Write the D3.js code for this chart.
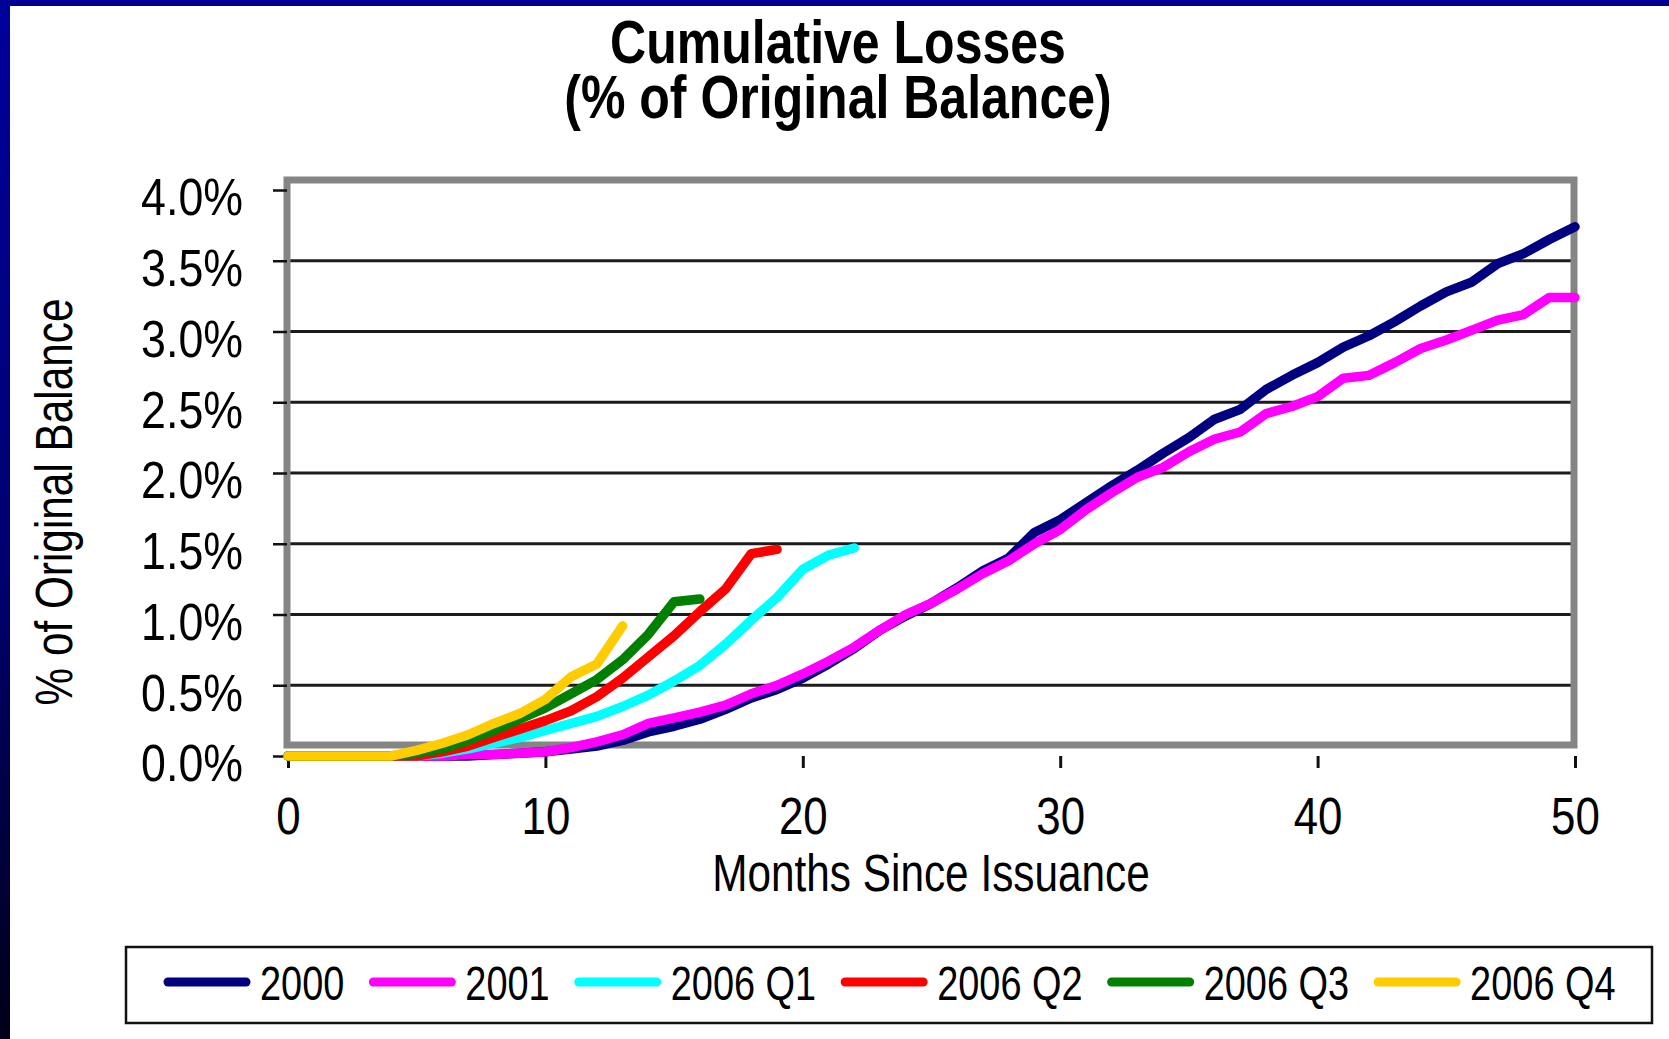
<!DOCTYPE html>
<html>
<head>
<meta charset="utf-8">
<title>Cumulative Losses</title>
<script src="https://cdn.jsdelivr.net/npm/d3@7"></script>
<style>
  html, body { margin: 0; padding: 0; background: #fff; overflow: hidden; }
  svg { display: block; }
  text { font-family: "Liberation Sans", Arial, sans-serif; fill: #000; }
</style>
</head>
<body>
<svg id="chart" width="1669" height="1039"></svg>
<script>
// ---- data: cumulative losses, % of original balance, by months since issuance ----
const seriesNames  = ["2000", "2001", "2006 Q1", "2006 Q2", "2006 Q3", "2006 Q4"];
const seriesColors = ["#000080", "#ff00ff", "#00ffff", "#ff0000", "#008000", "#ffcc00"];

const loss2000 = [0,0,0,0,0,0,0,0.00,0.01,0.02,0.03,0.05,0.07,0.11,0.17,0.21,0.26,0.33,0.41,0.47,
  0.55,0.65,0.76,0.89,0.99,1.08,1.19,1.31,1.40,1.58,1.67,1.79,1.91,2.02,2.14,2.25,2.38,2.45,2.59,2.69,
  2.78,2.89,2.97,3.07,3.18,3.28,3.35,3.48,3.55,3.65,3.74];
const loss2001 = [0,0,0,0,0,0,0.00,0.01,0.01,0.02,0.03,0.06,0.10,0.15,0.23,0.27,0.31,0.36,0.44,0.50,
  0.58,0.67,0.77,0.89,1.00,1.08,1.18,1.29,1.38,1.50,1.60,1.74,1.86,1.97,2.04,2.15,2.24,2.29,2.42,2.47,
  2.54,2.67,2.69,2.78,2.88,2.94,3.01,3.08,3.12,3.24,3.24];
const loss2006Q1 = [0,0,0,0,0,0,0.02,0.05,0.09,0.13,0.18,0.23,0.28,0.35,0.43,0.53,0.64,0.79,0.96,1.12,
  1.32,1.42,1.47];
const loss2006Q2 = [0,0,0,0,0,0,0.03,0.07,0.13,0.19,0.25,0.32,0.42,0.55,0.70,0.85,1.02,1.18,1.43,1.46];
const loss2006Q3 = [0,0,0,0,0,0.02,0.05,0.11,0.18,0.26,0.34,0.44,0.54,0.68,0.86,1.09,1.11];
const loss2006Q4 = [0,0,0,0,0,0.04,0.09,0.15,0.23,0.30,0.40,0.56,0.65,0.92];

const seriesValues = [loss2000, loss2001, loss2006Q1, loss2006Q2, loss2006Q3, loss2006Q4];

const xTicks = [0, 10, 20, 30, 40, 50];
const yTicks = [0, 0.5, 1.0, 1.5, 2.0, 2.5, 3.0, 3.5, 4.0];
const gridValues = [0.5, 1.0, 1.5, 2.0, 2.5, 3.0, 3.5];

const titleLines = ["Cumulative Losses", "(% of Original Balance)"];
const xTitle = "Months Since Issuance";
const yTitle = "% of Original Balance";

// ---- layout ----
const W = 1669, H = 1039;
const NARROW = 0.83;   // horizontal squeeze giving the narrow sans look
const svg = d3.select("#chart");

const x = d3.scaleLinear().domain([0, 50]).range([288, 1575]);
const y = d3.scaleLinear().domain([0, 4]).range([756, 190]);

// squeeze a text element horizontally around its anchor point
function condense(sel, k, extra) {
  sel.each(function () {
    const t = d3.select(this);
    const tx = +t.attr("x") || 0, ty = +t.attr("y") || 0;
    t.attr("x", 0).attr("y", 0)
     .attr("transform", `translate(${tx},${ty}) ${extra || ""} scale(${k},1)`);
  });
}

// slide frame: navy band on top, fading navy strip on the left
const defs = svg.append("defs");
const grad = defs.append("linearGradient").attr("id", "sideFade")
  .attr("x1", 0).attr("y1", 0).attr("x2", 0).attr("y2", 1);
grad.append("stop").attr("offset", "0%").attr("stop-color", "#00009c");
grad.append("stop").attr("offset", "55%").attr("stop-color", "#000070");
grad.append("stop").attr("offset", "100%").attr("stop-color", "#000018");

svg.append("rect").attr("width", W).attr("height", H).attr("fill", "#fff");
svg.append("rect").attr("x", 0).attr("y", 0).attr("width", 10).attr("height", H).attr("fill", "url(#sideFade)");
svg.append("rect").attr("x", 0).attr("y", 0).attr("width", W).attr("height", 6).attr("fill", "#000094");

// title, two lines
svg.append("g").selectAll("text").data(titleLines).join("text")
  .attr("x", 838).attr("y", (d, i) => 63 + i * 55)
  .attr("text-anchor", "middle")
  .style("font-weight", "bold").style("font-size", "61px")
  .text(d => d)
  .call(condense, 0.82);

// horizontal gridlines
svg.append("g").selectAll("line").data(gridValues).join("line")
  .attr("x1", 287).attr("x2", 1574)
  .attr("y1", d => y(d)).attr("y2", d => y(d))
  .attr("stroke", "#1c1c1c").attr("stroke-width", 2.8);

// grey plot frame
svg.append("rect")
  .attr("x", 287).attr("y", 180).attr("width", 1287).attr("height", 565)
  .attr("fill", "none").attr("stroke", "#858585").attr("stroke-width", 7);

// y axis
const yAxis = svg.append("g").attr("transform", "translate(287,0)")
  .call(d3.axisLeft(y).tickValues(yTicks).tickSize(14).tickPadding(30)
    .tickFormat(d => d3.format(".1%")(d / 100)));
yAxis.select(".domain").remove();
yAxis.selectAll(".tick line").attr("stroke", "#111").attr("stroke-width", 2.5);
yAxis.selectAll(".tick text")
  .attr("dy", "0.48em").style("font-size", "52px").attr("fill", "#000")
  .call(condense, 0.86);

// x axis
const xAxis = svg.append("g").attr("transform", "translate(0,756)")
  .call(d3.axisBottom(x).tickValues(xTicks).tickSize(12).tickPadding(30));
xAxis.select(".domain").remove();
xAxis.selectAll(".tick line").attr("stroke", "#111").attr("stroke-width", 3);
xAxis.selectAll(".tick text").style("font-size", "51px").attr("fill", "#000")
  .call(condense, 0.86);

// axis titles
svg.append("text").attr("x", 931).attr("y", 891).attr("text-anchor", "middle")
  .style("font-size", "51px").text(xTitle)
  .call(condense, NARROW);
svg.append("text").attr("x", 72).attr("y", 502)
  .attr("text-anchor", "middle").style("font-size", "51px").text(yTitle)
  .call(condense, NARROW, "rotate(-90)");

// series lines
const line = d3.line().x((d, i) => x(i)).y(d => y(d));
svg.append("g").selectAll("path").data(seriesValues).join("path")
  .attr("d", d => line(d))
  .attr("fill", "none")
  .attr("stroke", (d, i) => seriesColors[i])
  .attr("stroke-width", 9.5)
  .attr("stroke-linejoin", "round")
  .attr("stroke-linecap", "round");

// legend
const LEGEND_K = 0.79;
const legend = svg.append("g");
legend.append("rect").attr("x", 126).attr("y", 947).attr("width", 1526).attr("height", 76)
  .attr("fill", "#fff").attr("stroke", "#111").attr("stroke-width", 2.5);
let cursor = 164;
seriesNames.forEach((name, i) => {
  const item = legend.append("g");
  item.append("line")
    .attr("x1", cursor + 4).attr("x2", cursor + 82)
    .attr("y1", 982).attr("y2", 982)
    .attr("stroke", seriesColors[i]).attr("stroke-width", 9).attr("stroke-linecap", "round");
  const t = item.append("text").attr("x", cursor + 96).attr("y", 1000)
    .style("font-size", "48px").text(name)
    .call(condense, LEGEND_K);
  cursor += 96 + t.node().getBBox().width * LEGEND_K + 25;
});
</script>
</body>
</html>
